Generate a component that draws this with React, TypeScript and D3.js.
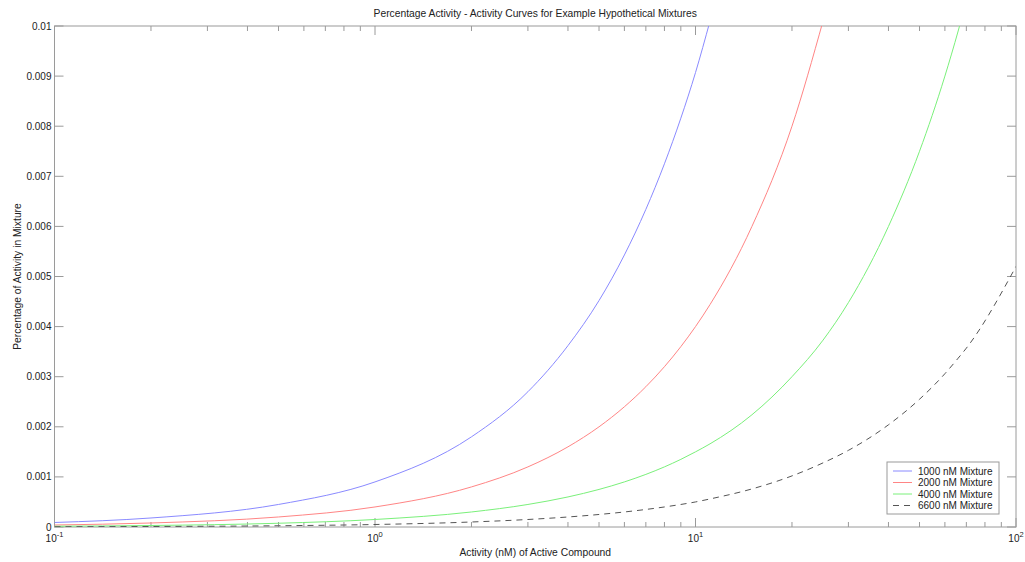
import React from "react";
import * as d3 from "d3";

const xValues = [0.1, 0.2, 0.5, 1, 2, 3, 4, 5, 6, 7, 8, 9, 10, 11.1, 15, 20, 25, 30, 40, 50, 60, 66, 70, 100];
const blueValues = [0.00009, 0.00018, 0.00045, 0.0009, 0.0018, 0.0027, 0.00362, 0.00452, 0.00543, 0.00634, 0.00725, 0.00816, 0.00907, 0.0101, null, null, null, null, null, null, null, null, null, null];
const redValues = [0.00004, 0.00008, 0.0002, 0.0004, 0.0008, 0.0012, 0.0016, 0.002, 0.0024, 0.0028, 0.0032, 0.0036, 0.004, 0.00444, 0.006, 0.008, 0.0101, null, null, null, null, null, null, null];
const greenValues = [0.000015, 0.00003, 0.000075, 0.00015, 0.0003, 0.00045, 0.0006, 0.00075, 0.0009, 0.00105, 0.0012, 0.00135, 0.0015, 0.00166, 0.00224, 0.003, 0.00373, 0.00448, 0.006, 0.0075, 0.009, 0.0099, 0.0105, null];
const blackValues = [0.000005, 0.00001, 0.000025, 0.00005, 0.0001, 0.00015, 0.0002, 0.00025, 0.0003, 0.00035, 0.0004, 0.00045, 0.0005, 0.00056, 0.00076, 0.00102, 0.00128, 0.00153, 0.00204, 0.00255, 0.00306, 0.00337, 0.00357, 0.0052];

const seriesNames = ["1000 nM Mixture", "2000 nM Mixture", "4000 nM Mixture", "6600 nM Mixture"];
const seriesColors = ["#8a8aff", "#ff8585", "#7af07a", "#555555"];
const seriesDashes = [null, null, null, "6,5"];
const seriesData = [blueValues, redValues, greenValues, blackValues];

const yTicks = [0, 0.001, 0.002, 0.003, 0.004, 0.005, 0.006, 0.007, 0.008, 0.009, 0.01];
const yTickLabels = ["0", "0.001", "0.002", "0.003", "0.004", "0.005", "0.006", "0.007", "0.008", "0.009", "0.01"];
const xMajorTicks = [0.1, 1, 10, 100];
const xMajorExps = ["-1", "0", "1", "2"];

const title = "Percentage Activity - Activity Curves for Example Hypothetical Mixtures";
const xLabel = "Activity (nM) of Active Compound";
const yLabel = "Percentage of Activity in Mixture";

export default function App() {
  const W = 1025, H = 562;
  const left = 54.5, right = 1016, top = 26, bottom = 527;
  const x = d3.scaleLog().domain([0.1, 100]).range([left, right]);
  const y = d3.scaleLinear().domain([0, 0.01]).range([bottom, top]);
  const axisColor = "#9a9a9a";
  const textColor = "#222";
  const font = "Liberation Sans, Arial, sans-serif";

  const minorTicks: number[] = [];
  [0.1, 1, 10].forEach((d) => {
    for (let k = 2; k <= 9; k++) minorTicks.push(d * k);
  });

  const line = d3
    .line<[number, number | null]>()
    .defined((d) => d[1] !== null)
    .x((d) => x(d[0]))
    .y((d) => y(d[1] as number))
    .curve(d3.curveMonotoneX);

  const legendX = 887, legendY = 462, legendW = 112, legendH = 52;

  return (
    <svg width={W} height={H} style={{ position: "absolute", left: 0, top: 0, background: "#fff" }}>
      <defs>
        <clipPath id="plotClip">
          <rect x={left} y={top} width={right - left} height={bottom - top} />
        </clipPath>
      </defs>
      <rect x={0} y={0} width={W} height={H} fill="#fff" />
      <rect x={left} y={top} width={right - left} height={bottom - top} fill="none" stroke={axisColor} strokeWidth={1} />
      {yTicks.map((t, i) => (
        <g key={"y" + i}>
          <line x1={left} x2={left + 9} y1={y(t)} y2={y(t)} stroke={axisColor} />
          <line x1={right} x2={right - 9} y1={y(t)} y2={y(t)} stroke={axisColor} />
          <text x={left - 3} y={y(t) + 3.5} textAnchor="end" fontSize={10} fill={textColor} fontFamily={font}>
            {yTickLabels[i]}
          </text>
        </g>
      ))}
      {xMajorTicks.map((t, i) => (
        <g key={"xm" + i}>
          <line x1={x(t)} x2={x(t)} y1={bottom} y2={bottom - 9} stroke={axisColor} />
          <line x1={x(t)} x2={x(t)} y1={top} y2={top + 9} stroke={axisColor} />
          <text x={x(t)} y={542} textAnchor="middle" fontSize={10} fill={textColor} fontFamily={font}>
            10
            <tspan dy={-5} fontSize={7.5}>
              {xMajorExps[i]}
            </tspan>
          </text>
        </g>
      ))}
      {minorTicks.map((t, i) => (
        <g key={"xn" + i}>
          <line x1={x(t)} x2={x(t)} y1={bottom} y2={bottom - 5} stroke={axisColor} />
          <line x1={x(t)} x2={x(t)} y1={top} y2={top + 5} stroke={axisColor} />
        </g>
      ))}
      <g clipPath="url(#plotClip)">
        {seriesData.map((vals, i) => (
          <path
            key={"s" + i}
            d={line(xValues.map((xv, j) => [xv, vals[j]] as [number, number | null])) || ""}
            fill="none"
            stroke={seriesColors[i]}
            strokeWidth={1}
            strokeDasharray={seriesDashes[i] || undefined}
          />
        ))}
      </g>
      <text x={(left + right) / 2} y={17} textAnchor="middle" fontSize={10.3} fill={textColor} fontFamily={font}>
        {title}
      </text>
      <text x={(left + right) / 2} y={556} textAnchor="middle" fontSize={10.3} fill={textColor} fontFamily={font}>
        {xLabel}
      </text>
      <text
        transform={`translate(21, ${(top + bottom) / 2}) rotate(-90)`}
        textAnchor="middle"
        fontSize={10.3}
        fill={textColor}
        fontFamily={font}
      >
        {yLabel}
      </text>
      <rect x={legendX} y={legendY} width={legendW} height={legendH} fill="#fff" stroke={axisColor} />
      {seriesNames.map((n, i) => {
        const ly = legendY + 9 + i * 11.5;
        return (
          <g key={"l" + i}>
            <line
              x1={legendX + 6}
              x2={legendX + 25}
              y1={ly}
              y2={ly}
              stroke={seriesColors[i]}
              strokeDasharray={seriesDashes[i] || undefined}
            />
            <text x={legendX + 31} y={ly + 3.5} fontSize={10} fill={textColor} fontFamily={font}>
              {n}
            </text>
          </g>
        );
      })}
    </svg>
  );
}
